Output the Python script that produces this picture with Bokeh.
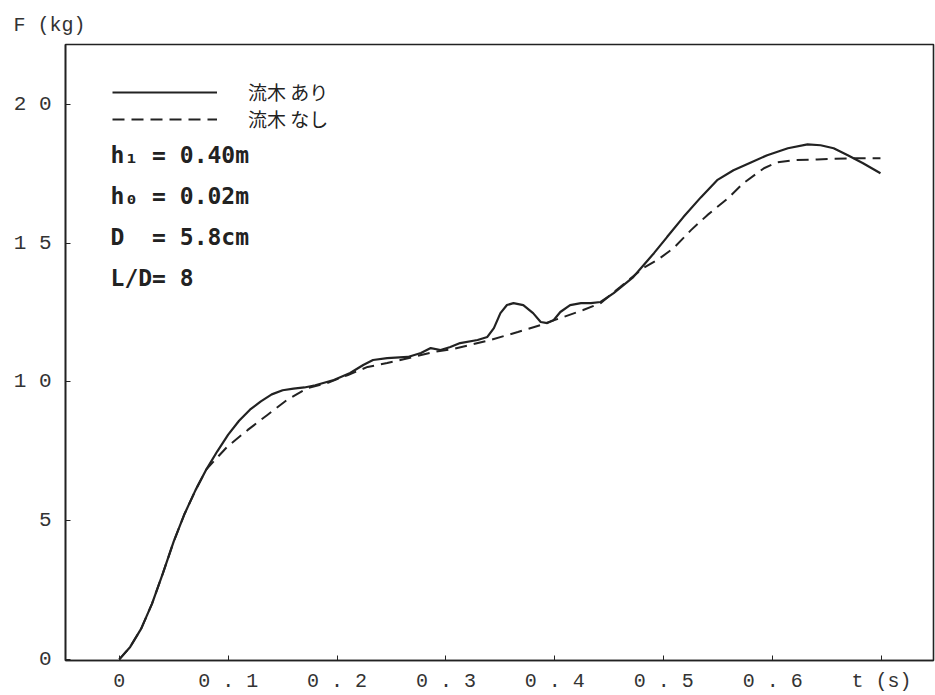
from bokeh.plotting import figure
from bokeh.models import Range1d, FixedTicker, Label, Legend, LegendItem
from bokeh.embed import file_html
from bokeh.resources import INLINE

# ---- data ----
t_with = [0.000, 0.010, 0.020, 0.030, 0.040, 0.050, 0.060, 0.070, 0.080, 0.090,
          0.100, 0.110, 0.120, 0.130, 0.140, 0.150, 0.160, 0.170, 0.180, 0.197,
          0.212, 0.224, 0.233, 0.246, 0.265, 0.277, 0.286, 0.295, 0.304, 0.313,
          0.329, 0.338, 0.344, 0.350, 0.356, 0.362, 0.371, 0.380, 0.387, 0.393,
          0.399, 0.405, 0.414, 0.424, 0.433, 0.442, 0.454, 0.472, 0.491, 0.503,
          0.518, 0.534, 0.549, 0.564, 0.580, 0.595, 0.614, 0.632, 0.644, 0.656,
          0.669, 0.683, 0.699]
F_with = [0.00, 0.45, 1.10, 2.00, 3.10, 4.25, 5.25, 6.10, 6.85, 7.50,
          8.10, 8.60, 9.00, 9.30, 9.55, 9.70, 9.76, 9.80, 9.88, 10.07,
          10.32, 10.61, 10.79, 10.86, 10.90, 11.04, 11.22, 11.15, 11.26, 11.40,
          11.51, 11.62, 11.94, 12.48, 12.77, 12.84, 12.77, 12.48, 12.16, 12.12,
          12.23, 12.52, 12.77, 12.84, 12.84, 12.88, 13.20, 13.78, 14.64, 15.22,
          15.94, 16.65, 17.27, 17.63, 17.91, 18.17, 18.42, 18.56, 18.53, 18.42,
          18.17, 17.88, 17.52]

t_without = [0.000, 0.010, 0.020, 0.030, 0.040, 0.050, 0.060, 0.070, 0.080, 0.099,
             0.118, 0.136, 0.154, 0.173, 0.191, 0.210, 0.228, 0.246, 0.270, 0.289,
             0.307, 0.341, 0.366, 0.387, 0.405, 0.426, 0.442, 0.460, 0.481, 0.494,
             0.509, 0.525, 0.540, 0.559, 0.573, 0.592, 0.604, 0.619, 0.641, 0.671,
             0.699]
F_without = [0.00, 0.45, 1.10, 2.00, 3.10, 4.25, 5.25, 6.10, 6.85, 7.66,
             8.27, 8.81, 9.35, 9.78, 9.96, 10.25, 10.54, 10.68, 10.90, 11.08,
             11.19, 11.51, 11.80, 12.05, 12.30, 12.59, 12.84, 13.42, 14.10, 14.39,
             14.82, 15.47, 16.01, 16.62, 17.16, 17.70, 17.91, 17.99, 18.02, 18.06,
             18.06]

series_names = ["流木 あり", "流木 なし"]
param_texts = ["h₁ = 0.40m", "h₀ = 0.02m", "D\u00a0\u00a0= 5.8cm", "L/D= 8"]

x_ticks = [0.0, 0.1, 0.2, 0.3, 0.4, 0.5, 0.6, 0.7]
x_tick_labels = ["0", "0 . 1", "0 . 2", "0 . 3", "0 . 4", "0 . 5", "0 . 6", "t (s)"]
y_ticks = [0, 5, 10, 15, 20]
y_tick_labels = ["0", "5", "1 0", "1 5", "2 0"]
y_title = "F (kg)"

INK = "#222222"

p = figure(width=935, height=695, output_backend="svg", toolbar_location=None,
           min_border_left=65, min_border_right=2, min_border_top=44, min_border_bottom=34,
           x_range=Range1d(-0.0494, 0.7477), y_range=Range1d(-0.04, 22.16),
           background_fill_color="white", border_fill_color="white",
           title=y_title)
p.title.align = "left"
p.title.offset = -52
p.title.text_font = "Liberation Mono"
p.title.text_font_size = "20px"
p.title.text_font_style = "normal"
p.title.text_color = "#333333"
p.title.standoff = 16

p.grid.visible = False
p.outline_line_color = INK
p.outline_line_width = 1.6

for ax in (p.xaxis[0], p.yaxis[0]):
    ax.axis_line_color = INK
    ax.axis_line_width = 1.6
    ax.major_tick_line_color = INK
    ax.major_tick_in = 5
    ax.major_tick_out = 0
    ax.minor_tick_line_color = None
    ax.major_label_text_font = "Liberation Mono"
    ax.major_label_text_color = "#333333"

p.xaxis[0].ticker = FixedTicker(ticks=x_ticks)
p.xaxis[0].major_label_overrides = {t: s for t, s in zip(x_ticks, x_tick_labels)}
p.xaxis[0].major_label_text_font_size = "20px"
p.xaxis[0].major_label_standoff = 9

p.yaxis[0].ticker = FixedTicker(ticks=y_ticks)
p.yaxis[0].major_label_overrides = {t: s for t, s in zip(y_ticks, y_tick_labels)}
p.yaxis[0].major_label_text_font_size = "21px"
p.yaxis[0].major_label_standoff = 14

r1 = p.line(t_with, F_with, line_color=INK, line_width=2.2)
r2 = p.line(t_without, F_without, line_color=INK, line_width=2.0, line_dash="12 7")

legend = Legend(items=[LegendItem(label=series_names[0], renderers=[r1]),
                       LegendItem(label=series_names[1], renderers=[r2])],
                location=(37, 518), orientation="vertical",
                border_line_alpha=0, background_fill_alpha=0,
                glyph_width=105, glyph_height=24, label_height=24, spacing=0,
                padding=10, margin=0, label_standoff=31,
                label_text_font="Noto Sans CJK JP", label_text_font_size="19px",
                label_text_color=INK)
p.add_layout(legend)

# parameter block
param_rows_F = [18.16, 16.69, 15.21, 13.74]
for txt, fy in zip(param_texts, param_rows_F):
    p.add_layout(Label(x=-0.008, y=fy, text=txt, text_font="DejaVu Sans Mono",
                       text_font_size="23px", text_color=INK, text_font_style="bold",
                       text_baseline="middle", text_align="left"))

open("out.html", "w").write(file_html(p, INLINE))
